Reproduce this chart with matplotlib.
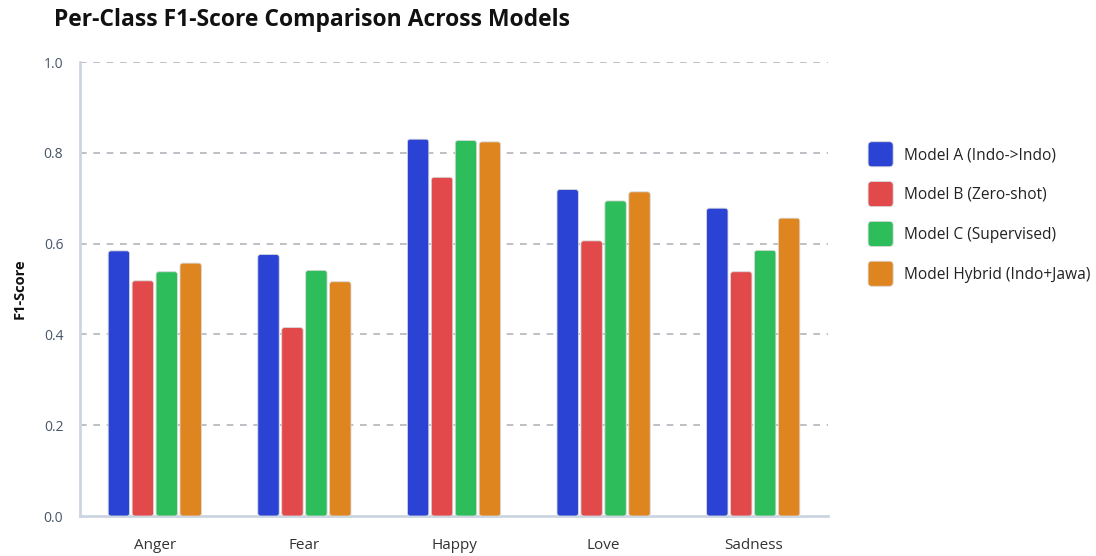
import matplotlib
matplotlib.use("Agg")
import matplotlib.pyplot as plt
from matplotlib.patches import FancyBboxPatch
from matplotlib.legend_handler import HandlerPatch
import numpy as np

plt.rcParams['font.family'] = ['Open Sans', 'DejaVu Sans']

categories = ["Anger", "Fear", "Happy", "Love", "Sadness"]
model_names = ["Model A (Indo->Indo)", "Model B (Zero-shot)", "Model C (Supervised)", "Model Hybrid (Indo+Jawa)"]
model_a = [0.584, 0.576, 0.830, 0.719, 0.678]
model_b = [0.518, 0.415, 0.746, 0.606, 0.538]
model_c = [0.538, 0.541, 0.827, 0.694, 0.585]
model_h = [0.557, 0.516, 0.824, 0.714, 0.656]
colors = ["#2a43d5", "#e2494a", "#2dbd5b", "#de8520"]

series = [model_a, model_b, model_c, model_h]

fig = plt.figure(figsize=(10.96, 5.56), dpi=100)
ax = fig.add_axes([80/1096, 40/556, 748/1096, 454/556])

x = np.arange(len(categories))
pitch = 0.16
width = 0.143
handles = []
for i, (vals, col, name) in enumerate(zip(series, colors, model_names)):
    offs = (i - 1.5) * pitch
    bars = ax.bar(x + offs, vals, width=width, color=col, label=name, zorder=3)
    for b in bars:
        b.set_visible(False)
        fp = FancyBboxPatch((b.get_x(), b.get_y()), b.get_width(), b.get_height(),
                            boxstyle="round,pad=0,rounding_size=0.018",
                            mutation_aspect=0.33, facecolor=col,
                            edgecolor="#d8d8d8", linewidth=0.6, zorder=3)
        ax.add_patch(fp)
    handles.append(FancyBboxPatch((0, 0), 1, 1, boxstyle="round,pad=0,rounding_size=0.15",
                                  facecolor=col, edgecolor="#d8d8d8", linewidth=0.6))

ax.set_xlim(-0.5, 4.5)
ax.set_ylim(0, 1.0)
ax.set_yticks([0.0, 0.2, 0.4, 0.6, 0.8, 1.0])
ax.set_yticklabels(["0.0", "0.2", "0.4", "0.6", "0.8", "1.0"])
ax.set_xticks(x)
ax.set_xticklabels(categories)
ax.tick_params(axis='both', length=0)
ax.tick_params(axis='y', labelsize=10, pad=12, labelcolor="#475569")
ax.tick_params(axis='x', labelsize=11, pad=16, labelcolor="#333333")

for yv in [0.2, 0.4, 0.6, 0.8, 1.0]:
    ax.axhline(yv, color="#b4b4bc", linestyle=(0, (4, 4)), linewidth=1.2, zorder=1)

for s in ["top", "right"]:
    ax.spines[s].set_visible(False)
for s in ["left", "bottom"]:
    ax.spines[s].set_color("#cbd5e1")
    ax.spines[s].set_linewidth(2)

ax.set_ylabel("F1-Score", fontsize=10.5, fontweight="bold", color="#111111", labelpad=12)

fig.text(54/1096, 1 - 20/556, "Per-Class F1-Score Comparison Across Models",
         fontsize=16.5, fontweight="bold", color="#111111", va="center", ha="left")


class RoundHandler(HandlerPatch):
    def create_artists(self, legend, orig_handle, xdescent, ydescent, width, height, fontsize, trans):
        s = min(width, height)
        p = FancyBboxPatch((-xdescent + (width - s) / 2, -ydescent + (height - s) / 2), s, s,
                           boxstyle="round,pad=0,rounding_size=%f" % (s * 0.15),
                           facecolor=orig_handle.get_facecolor(), edgecolor="#d8d8d8",
                           linewidth=0.6, transform=trans)
        return [p]


leg = fig.legend(handles, model_names, loc="center left",
                 bbox_to_anchor=(853/1096, 1 - 214/556), frameon=False,
                 fontsize=11.2, handler_map={FancyBboxPatch: RoundHandler()},
                 handlelength=1.75, handleheight=2.1, labelspacing=0.95, handletextpad=0.65)
for t in leg.get_texts():
    t.set_color("#222222")

fig.savefig("out.png", dpi=100)
